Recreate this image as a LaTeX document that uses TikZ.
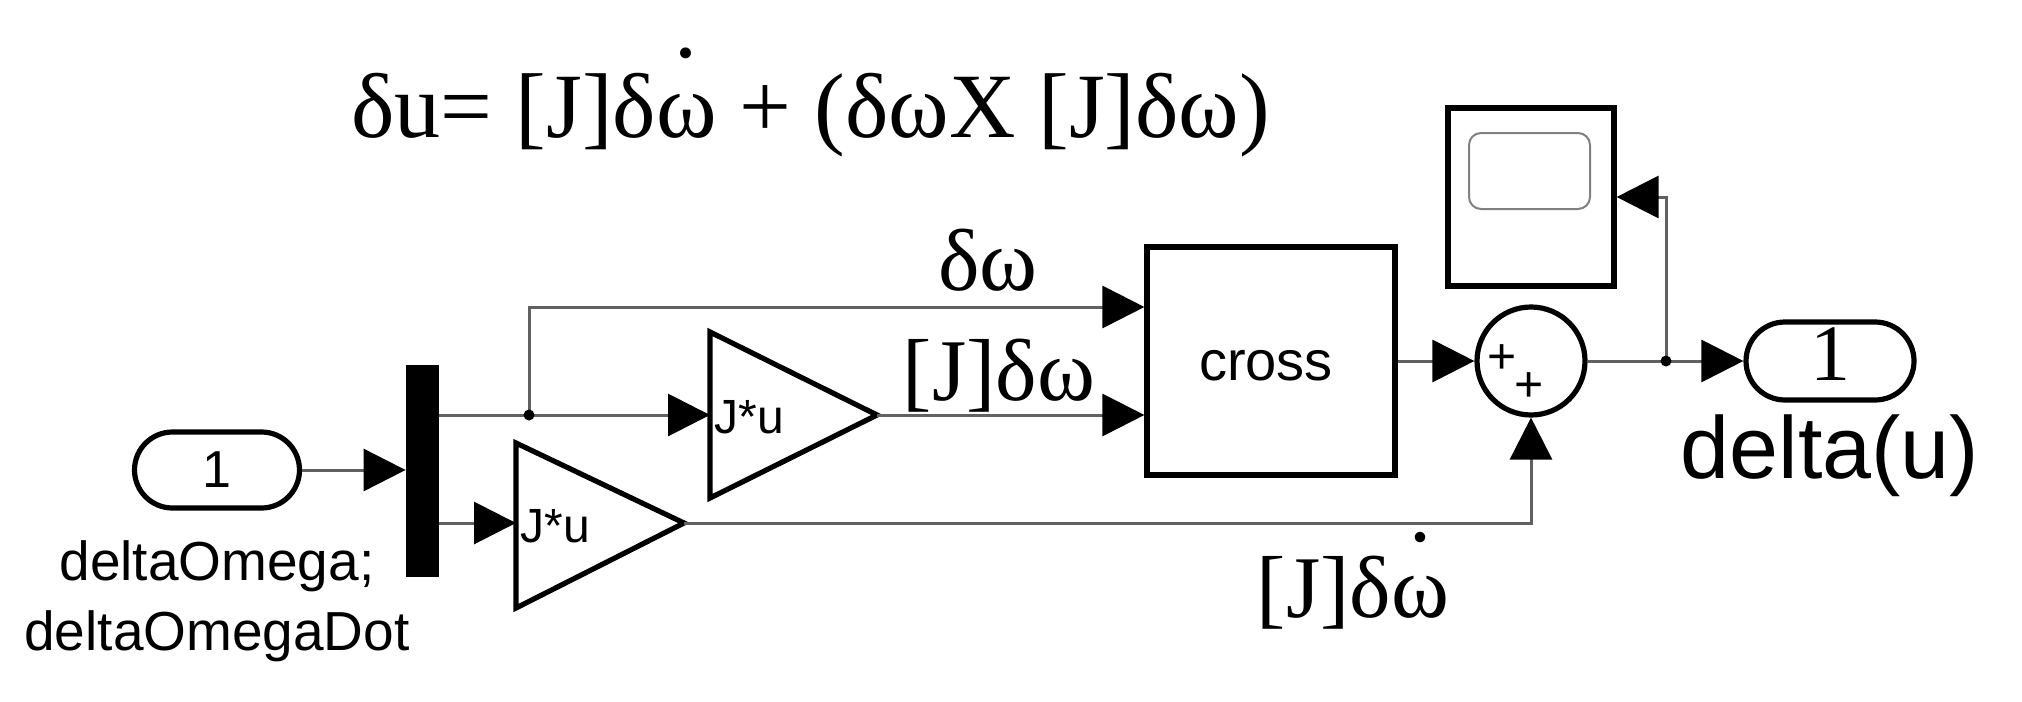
\documentclass[tikz,border=0pt]{standalone}
\usepackage{fontspec}
\setmainfont{Liberation Serif}
\newfontfamily\arialfam{Liberation Sans}
\usetikzlibrary{arrows.meta}
\newcommand{\wdot}{\ooalign{ω\cr\hidewidth\smash{\raisebox{0.86em}{.}}\hidewidth\cr}}
\begin{document}
\begin{tikzpicture}[x=0.5pt,y=-0.5pt,
  wire/.style={draw=black!62, line width=1.5pt},
  arr/.style={wire, -{Triangle[length=21pt,width=21pt,color=black,fill=black]}},
  blk/.style={draw=black, line width=2.6pt, fill=white, inner sep=0pt, line join=miter},
  pill/.style={blk, rounded corners=19pt},
  sans/.style={font=\arialfam\fontsize{#1}{#1}\selectfont, inner sep=0pt},
  serif/.style={font=\fontsize{#1}{#1}\selectfont, inner sep=0pt},
  jdot/.style={fill=black, circle, inner sep=0pt, minimum size=5.5pt}
]
\useasboundingbox (0,0) rectangle (2022,701);

% equation
\node[serif=46, anchor=base west] (eq) at (351,137) {δu= [J]δ\wdot\ + (δωX [J]δω)};

% inport
\node[pill, minimum width=82.5pt, minimum height=38pt] (in1) at (217,470) {};
\node[sans=26] (in1t) at (217,470) {1};
\node[anchor=north, align=center, inner sep=0pt, font=\arialfam\fontsize{27.5}{35}\selectfont] (inlab) at (217,540) {deltaOmega;\\deltaOmegaDot};

% demux
\node[fill=black, minimum width=16.5pt, minimum height=106pt, inner sep=0pt] (demux) at (422.5,471) {};

% gains
\coordinate (j1) at (529,415);
\coordinate (g1in) at (710,415);
\coordinate (g1out) at (877,415);
\coordinate (g2in) at (516,523);
\coordinate (g2out) at (684,523);
\draw[blk] (710,332) -- (g1out) -- (710,498) -- cycle;
\draw[blk] (516,443) -- (g2out) -- (516,608) -- cycle;
\node[sans=24, anchor=base west] (g1t) at (714,433) {J*u};
\node[sans=24, anchor=base west] (g2t) at (520,542) {J*u};

% cross
\node[blk, minimum width=124pt, minimum height=114pt] (cross) at (1271,361) {};
\node[sans=28, anchor=base] (crosst) at (1266,380) {cross};
\coordinate (cin1) at ([yshift=27pt]cross.west);
\coordinate (cin2) at ([yshift=-27pt]cross.west);

% sum
\node[blk, circle, minimum size=54pt] (sum) at (1531,361) {};
\node[sans=25] (p1) at (1502,359) {+};
\node[sans=25] (p2) at (1529,387) {+};

% scope
\node[blk, minimum width=83pt, minimum height=89pt] (scope) at (1531,197) {};
\node[draw=black!50, line width=1pt, rounded corners=6pt, minimum width=60.5pt, minimum height=38pt, inner sep=0pt] (screen) at (1529.5,171) {};

% outport
\node[pill, minimum width=84pt, minimum height=39pt, rounded corners=19.5pt] (out1) at (1830,361) {};
\node[serif=40, anchor=base] (out1t) at (1830,380) {1};
\node[sans=44, anchor=base] (outlab) at (1830,478) {delta(u)};

\coordinate (j2) at (1666,361);

% wires
\draw[arr] (in1.east) -- (in1.east -| demux.west);
\draw[wire] (demux.east |- j1) -- (j1);
\draw[arr] (j1) -- (g1in);
\draw[arr] (j1) |- (cin1);
\draw[arr] (demux.east |- g2in) -- (g2in);
\draw[arr] (g1out) -- (cin2);
\draw[arr] (g2out) -| (sum.south);
\draw[arr] (cross.east) -- (sum.west);
\draw[wire] (sum.east) -- (j2);
\draw[arr] (j2) -- (out1.west);
\draw[arr] (j2) |- (scope.east);
\node[jdot] (j1d) at (j1) {};
\node[jdot] (j2d) at (j2) {};

% signal labels
\node[serif=44, anchor=base] (lw) at (988,290) {δω};
\node[serif=44, anchor=base] (ljw) at (999,400) {[J]δω};
\node[serif=44, anchor=base] (ljwd) at (1353,617) {[J]δ\wdot};
\end{tikzpicture}
\end{document}
